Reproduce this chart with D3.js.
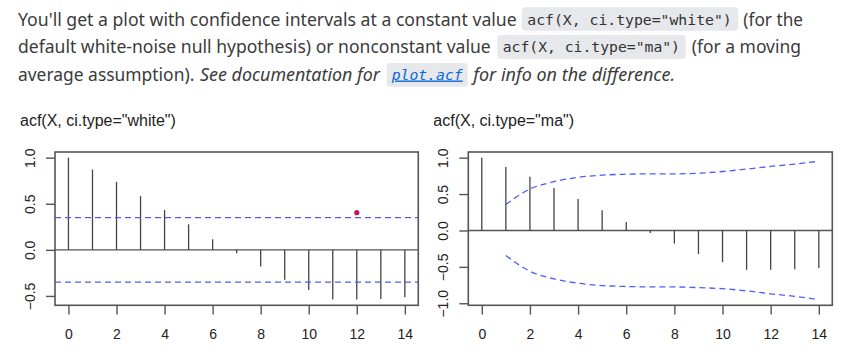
<!DOCTYPE html>
<html>
<head>
<meta charset="utf-8">
<script src="https://cdn.jsdelivr.net/npm/d3@7"></script>
<style>
  body { margin: 0; background: #fff; }
  svg { display: block; }
</style>
</head>
<body>
<svg id="chart" width="851" height="353"></svg>
<script>
// lags shown on both panels
var lags = [0, 1, 2, 3, 4, 5, 6, 7, 8, 9, 10, 11, 12, 13, 14];
var acfValues = [1.0, 0.871, 0.738, 0.583, 0.432, 0.277, 0.115, -0.036, -0.18, -0.324, -0.435, -0.54, -0.54, -0.533, -0.515];

// white noise bound (constant)
var ciWhite = 0.35;

// moving average bounds, lags 1..14
var maLags = [1, 2, 3, 4, 5, 6, 7, 8, 9, 10, 11, 12, 13, 14];
var ciMaUpper = [0.357, 0.569, 0.67, 0.73, 0.76, 0.773, 0.778, 0.778, 0.787, 0.81, 0.843, 0.88, 0.912, 0.95];
var ciMaLower = [-0.345, -0.56, -0.665, -0.725, -0.757, -0.77, -0.775, -0.776, -0.785, -0.8, -0.83, -0.87, -0.905, -0.95];

var highlight = [{lag: 12, value: 0.403}];

var xTicks = [0, 2, 4, 6, 8, 10, 12, 14];
var yTicksWhite = [-0.5, 0, 0.5, 1];
var yTicksMa = [-1, -0.5, 0, 0.5, 1];

var svg = d3.select("#chart");
var axisGrey = "#555";
var ciBlue = "#4d5cff";

// ---- paragraph text above the plots ----
var bodyFont = "'Noto Sans', 'Open Sans', sans-serif";
var monoFont = "'DejaVu Sans Mono', 'Liberation Mono', monospace";

var codeBoxes = [
  {x: 521.7, y: 7.3, w: 216.6, h: 23.4},
  {x: 497.3, y: 35, w: 188.4, h: 24},
  {x: 386.7, y: 63, w: 81, h: 23.7}
];
svg.selectAll(".codebox")
  .data(codeBoxes)
  .enter().append("rect")
    .attr("class", "codebox")
    .attr("x", function(d) { return d.x; })
    .attr("y", function(d) { return d.y; })
    .attr("width", function(d) { return d.w; })
    .attr("height", function(d) { return d.h; })
    .attr("rx", 4)
    .attr("fill", "#e6e8eb");

var segments = [
  {t: "You'll get a plot with confidence intervals at a constant value", x: 18, w: 498.7, y: 26},
  {t: "acf(X, ci.type=\"white\")", x: 527.3, w: 204.4, y: 25, code: true},
  {t: "(for the", x: 743.3, w: 59.7, y: 26},
  {t: "default white-noise null hypothesis) or nonconstant value", x: 18, w: 472.7, y: 53.3},
  {t: "acf(X, ci.type=\"ma\")", x: 502.7, w: 177.3, y: 52.3, code: true},
  {t: "(for a moving", x: 691.7, w: 109.3, y: 53.3},
  {t: "average assumption).", x: 18, w: 176.3, y: 80.5},
  {t: "See documentation for", x: 200, w: 180, y: 80.5, italic: true},
  {t: "plot.acf", x: 391.7, w: 71, y: 79.5, code: true, link: true},
  {t: "for info on the difference.", x: 473.3, w: 201.7, y: 80.5, italic: true}
];
svg.selectAll(".para")
  .data(segments)
  .enter().append("text")
    .attr("class", "para")
    .attr("x", function(d) { return d.x; })
    .attr("y", function(d) { return d.y; })
    .attr("textLength", function(d) { return d.w; })
    .attr("lengthAdjust", "spacingAndGlyphs")
    .style("font-family", function(d) { return d.code ? monoFont : bodyFont; })
    .style("font-size", function(d) { return d.code ? "14px" : "17.5px"; })
    .style("font-style", function(d) { return (d.italic || d.link) ? "italic" : "normal"; })
    .style("text-decoration", function(d) { return d.link ? "underline" : "none"; })
    .attr("fill", function(d) { return d.link ? "#0969da" : (d.code ? "#333" : "#3b3b3b"); })
    .text(function(d) { return d.t; });

// ---- the two acf panels ----
var panels = [
  {title: "acf(X, ci.type=\"white\")", left: 55, right: 418.3, titleX: 20, type: "white", yTicks: yTicksWhite},
  {title: "acf(X, ci.type=\"ma\")", left: 468.3, right: 832.3, titleX: 433.3, type: "ma", yTicks: yTicksMa}
];
var boxTop = 152, boxBottom = 305.3;

panels.forEach(function(p) {
  var g = svg.append("g");

  var lagPad = (d3.max(lags) - d3.min(lags)) * 0.04;
  var x = d3.scaleLinear()
    .domain([d3.min(lags) - lagPad, d3.max(lags) + lagPad])
    .range([p.left, p.right]);

  var lo, hi;
  if (p.type == "white") {
    lo = Math.min(d3.min(acfValues), -ciWhite);
    hi = Math.max(d3.max(acfValues), ciWhite);
  } else {
    lo = Math.min(d3.min(acfValues), d3.min(ciMaLower));
    hi = Math.max(d3.max(acfValues), d3.max(ciMaUpper));
  }
  var yPad = (hi - lo) * 0.04;
  var y = d3.scaleLinear().domain([lo - yPad, hi + yPad]).range([boxBottom, boxTop]);

  // title
  g.append("text")
    .attr("x", p.titleX)
    .attr("y", 126)
    .style("font-family", "'Liberation Sans', Arial, sans-serif")
    .style("font-size", "16px")
    .attr("fill", "#222")
    .text(p.title);

  // zero line
  g.append("line")
    .attr("x1", p.left).attr("x2", p.right)
    .attr("y1", y(0)).attr("y2", y(0))
    .attr("stroke", axisGrey)
    .attr("stroke-width", 1.4);

  // acf spikes
  g.selectAll(".spike")
    .data(lags)
    .enter().append("line")
      .attr("class", "spike")
      .attr("x1", function(d) { return x(d); })
      .attr("x2", function(d) { return x(d); })
      .attr("y1", y(0))
      .attr("y2", function(d, i) { return y(acfValues[i]); })
      .attr("stroke", "#444")
      .attr("stroke-width", 1.3);

  // confidence bounds
  if (p.type == "white") {
    [ciWhite, -ciWhite].forEach(function(v) {
      g.append("line")
        .attr("x1", p.left).attr("x2", p.right)
        .attr("y1", y(v)).attr("y2", y(v))
        .attr("stroke", ciBlue)
        .attr("stroke-width", 1.3)
        .attr("stroke-dasharray", "6,4");
    });
    g.selectAll(".hl")
      .data(highlight)
      .enter().append("circle")
        .attr("cx", function(d) { return x(d.lag); })
        .attr("cy", function(d) { return y(d.value); })
        .attr("r", 2.6)
        .attr("fill", "#c2185b");
  } else {
    var line = d3.line()
      .x(function(d) { return x(d[0]); })
      .y(function(d) { return y(d[1]); })
      .curve(d3.curveMonotoneX);
    [ciMaUpper, ciMaLower].forEach(function(arr) {
      g.append("path")
        .attr("d", line(d3.zip(maLags, arr)))
        .attr("fill", "none")
        .attr("stroke", ciBlue)
        .attr("stroke-width", 1.3)
        .attr("stroke-dasharray", "6,4");
    });
  }

  // box
  g.append("rect")
    .attr("x", p.left).attr("y", boxTop)
    .attr("width", p.right - p.left)
    .attr("height", boxBottom - boxTop)
    .attr("fill", "none")
    .attr("stroke", axisGrey)
    .attr("stroke-width", 1.6);

  // x axis
  var xAxis = g.append("g")
    .attr("transform", "translate(0," + boxBottom + ")")
    .call(d3.axisBottom(x).tickValues(xTicks).tickSize(9.3).tickPadding(14).tickFormat(d3.format("d")));
  xAxis.select(".domain").remove();

  // y axis
  var yAxis = g.append("g")
    .attr("transform", "translate(" + p.left + ",0)")
    .call(d3.axisLeft(y).tickValues(p.yTicks).tickSize(9).tickFormat(d3.format(".1f")));
  yAxis.select(".domain").remove();
  yAxis.selectAll(".tick text")
    .attr("x", 0)
    .attr("dy", 0)
    .attr("y", 0)
    .attr("transform", "translate(-20,0) rotate(-90)")
    .attr("text-anchor", "middle");

  g.selectAll(".tick line")
    .attr("stroke", axisGrey)
    .attr("stroke-width", 1.4);
  g.selectAll(".tick text")
    .attr("fill", "#222")
    .style("font-family", "'Liberation Sans', Arial, sans-serif")
    .style("font-size", "14px");
});
</script>
</body>
</html>
